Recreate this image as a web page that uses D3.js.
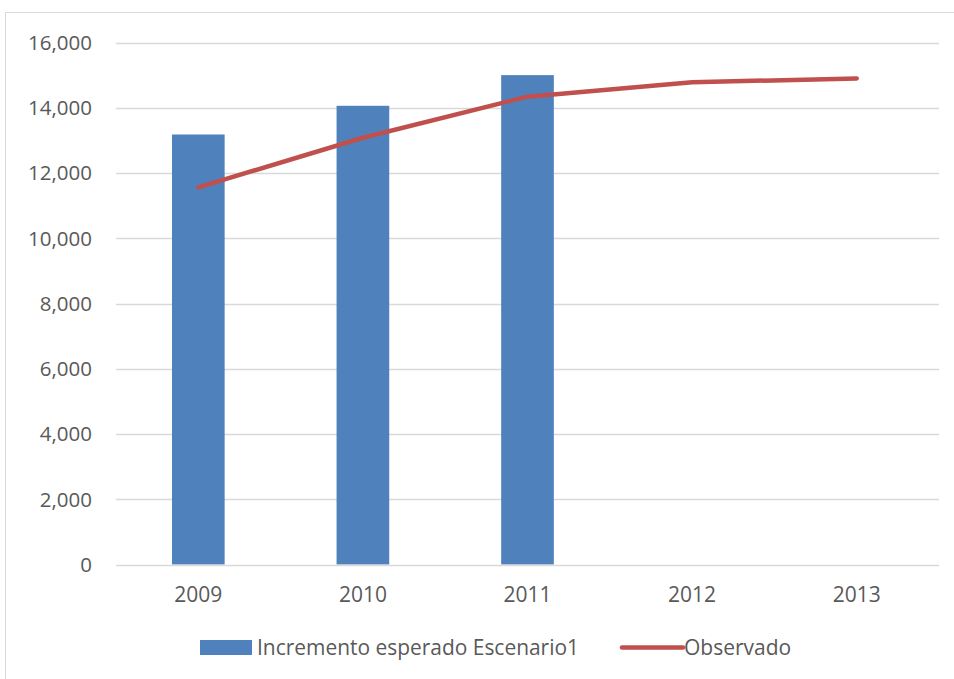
<!DOCTYPE html>
<html><head><meta charset="utf-8">
<script src="https://cdn.jsdelivr.net/npm/d3@7"></script>
<style>body{margin:0;background:#fff}svg{display:block}text{font-family:"Open Sans",sans-serif;fill:#595959}</style>
</head><body>
<script>
const categories = ["2009","2010","2011","2012","2013"];
const barValues = [13180, 14060, 15000, null, null];
const lineValues = [11560, 13080, 14340, 14780, 14900];
const yTicks = [0,2000,4000,6000,8000,10000,12000,14000,16000];
const barName = "Incremento esperado Escenario1";
const lineName = "Observado";

const W=954,H=679;
const svg=d3.select("body").append("svg").attr("width",W).attr("height",H);
svg.append("rect").attr("x",5.5).attr("y",12.5).attr("width",W).attr("height",H).attr("fill","none").attr("stroke","#d9d9d9");

const x=d3.scaleBand().domain(categories).range([116,939]).paddingInner(0.68).paddingOuter(0.34);
const y=d3.scaleLinear().domain([0,16000]).range([564.5,42.5]);

svg.append("g").selectAll("line").data(yTicks.slice(1)).join("line")
 .attr("x1",116).attr("x2",939).attr("y1",d=>Math.round(y(d))+0.5).attr("y2",d=>Math.round(y(d))+0.5)
 .attr("stroke","#d9d9d9").attr("stroke-width",1.3);

svg.append("g").selectAll("rect").data(categories.map((c,i)=>({c,v:barValues[i]})).filter(d=>d.v!=null)).join("rect")
 .attr("x",d=>x(d.c)).attr("width",x.bandwidth()).attr("y",d=>y(d.v)).attr("height",d=>y(0)-y(d.v)).attr("fill","#4f81bd");

svg.append("line").attr("x1",116).attr("x2",939).attr("y1",Math.round(y(0))+0.5).attr("y2",Math.round(y(0))+0.5).attr("stroke","#d9d9d9").attr("stroke-width",1.3);

const line=d3.line().x((d,i)=>x(categories[i])+x.bandwidth()/2).y(d=>y(d));
svg.append("path").datum(lineValues).attr("d",line).attr("fill","none").attr("stroke","#c0504d").attr("stroke-width",4.5).attr("stroke-linecap","round").attr("stroke-linejoin","round");

const fmt=d3.format(",");
svg.append("g").selectAll("text").data(yTicks).join("text")
 .attr("x",92).attr("y",d=>y(d)).attr("dy","0.36em").attr("text-anchor","end").attr("font-size",20.5).text(d=>fmt(d));

svg.append("g").selectAll("text").data(categories).join("text")
 .attr("x",d=>x(d)+x.bandwidth()/2).attr("y",602).attr("text-anchor","middle").attr("font-size",21).text(d=>d);

const lg=svg.append("g");
lg.append("rect").attr("x",200).attr("y",640).attr("width",52).attr("height",15).attr("fill","#4f81bd");
lg.append("text").attr("x",257).attr("y",655).attr("font-size",21).attr("textLength",322).attr("lengthAdjust","spacingAndGlyphs").text(barName);
lg.append("line").attr("x1",622).attr("x2",683).attr("y1",647.5).attr("y2",647.5).attr("stroke","#c0504d").attr("stroke-width",4.5).attr("stroke-linecap","round");
lg.append("text").attr("x",684).attr("y",655).attr("font-size",21).text(lineName);
</script>
</body></html>
